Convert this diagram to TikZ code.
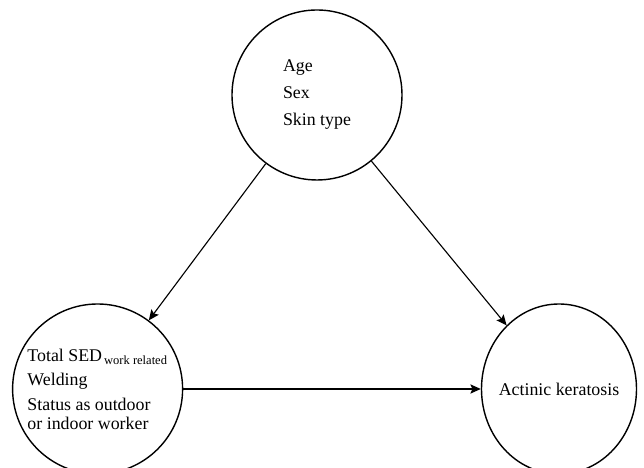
\documentclass[tikz,border=0pt]{standalone}
\usepackage{fontspec}
\setmainfont{Liberation Serif}
\usetikzlibrary{arrows.meta,shapes.geometric}
\tikzset{
  var/.style={draw,circle,line width=1pt,minimum size=4.25cm,inner sep=0pt,align=left,font=\fontsize{12.7}{13.5}\selectfont},
  arr/.style={-{Stealth[length=2.6mm,width=2.3mm,inset=0.5mm]},line width=0.8pt}
}
\begin{document}
\begin{tikzpicture}
\useasboundingbox (0,0) rectangle (16.1,11.7);
\node[var] (conf) at (7.925,9.325) {Age\\[5.7pt]Sex\\[5.7pt]Skin type};
\node[var] (expo) at (2.44,1.975) {Total SED\kern1.5pt\textsubscript{work related}\\[3.9pt]Welding\\[3.9pt]Status as outdoor\\or indoor worker};
\node[var,ellipse,inner xsep=-0.14cm,minimum width=3.875cm,minimum height=4.25cm] (ak) at (13.975,1.975) {Actinic keratosis};
\draw[arr] (conf) -- (expo);
\draw[arr] (conf) -- (ak);
\draw[arr] (expo) -- (ak);
\end{tikzpicture}
\end{document}
